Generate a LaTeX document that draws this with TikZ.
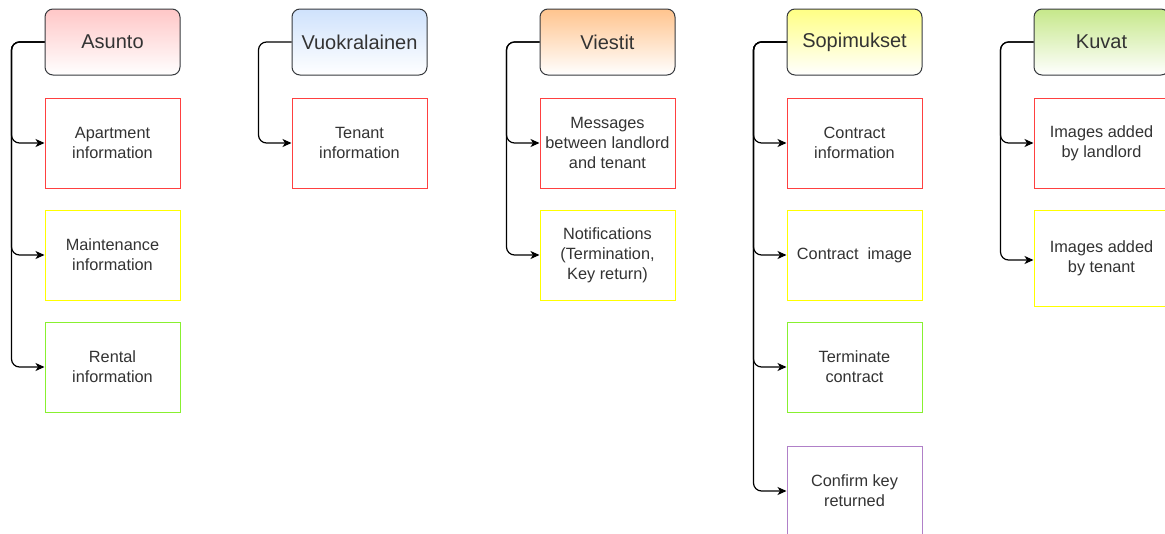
\documentclass[tikz,border=0pt]{standalone}
\usepackage{fontspec}
\setmainfont{Liberation Sans}
\usetikzlibrary{arrows.meta}

\definecolor{txt}{HTML}{333333}
\definecolor{hstroke}{HTML}{36393D}
\definecolor{redtop}{HTML}{FFC7C7}
\definecolor{bluetop}{HTML}{CFE2FC}
\definecolor{orangetop}{HTML}{FFC48E}
\definecolor{yellowtop}{HTML}{FFFF84}
\definecolor{greentop}{HTML}{C6E88A}
\definecolor{bred}{HTML}{FF4040}
\definecolor{byellow}{HTML}{FFFF00}
\definecolor{bgreen}{HTML}{88F030}
\definecolor{bpurple}{HTML}{B080C8}

\tikzset{
  header/.style={draw=hstroke, line width=1pt, rounded corners=8pt,
    minimum width=135pt, minimum height=66pt, bottom color=white,
    text=txt, font=\fontsize{20}{23}\selectfont, inner sep=0pt},
  item/.style={draw=#1, line width=1pt, fill=white,
    minimum width=135pt, minimum height=90pt, text=txt, align=center,
    font=\fontsize{16.3}{20}\selectfont, inner sep=0pt},
  link/.style={draw=black, line width=1.2pt, rounded corners=8pt,
    -{Stealth[length=9pt,width=8pt,inset=2.5pt]}}
}

\begin{document}
\begin{tikzpicture}[x=1pt,y=-1pt]
\useasboundingbox (0,0) rectangle (1165,533);
\clip (0,0) rectangle (1165,533);

% column headers
\node[header, top color=redtop]    (asunto) at (112.5,42) {Asunto};
\node[header, top color=bluetop]   (vuokra) at (359.5,42) {Vuokralainen};
\node[header, top color=orangetop] (viest)  at (607.5,42) {Viestit};
\node[header, top color=yellowtop] (sopim)  at (854.5,42) {Sopimukset};
\node[header, top color=greentop]  (kuvat)  at (1101.5,42) {Kuvat};

% Asunto
\node[item=bred]    (a1) at (112.5,143) {Apartment\\information};
\node[item=byellow] (a2) at (112.5,255) {Maintenance\\information};
\node[item=bgreen]  (a3) at (112.5,367) {Rental\\information};

% Vuokralainen
\node[item=bred] (v1) at (359.5,143) {Tenant\\information};

% Viestit
\node[item=bred]    (m1) at (607.5,143) {Messages\\between landlord\\and tenant};
\node[item=byellow] (m2) at (607.5,255) {Notifications\\(Termination,\\Key return)};

% Sopimukset
\node[item=bred]    (s1) at (854.5,143) {Contract\\information};
\node[item=byellow] (s2) at (854.5,255) {Contract\ \ image};
\node[item=bgreen]  (s3) at (854.5,367) {Terminate\\contract};
\node[item=bpurple] (s4) at (854.5,491) {Confirm key\\returned};

% Kuvat
\node[item=bred]                       (k1) at (1101.5,143) {Images added\\by landlord};
\node[item=byellow, minimum height=96pt] (k2) at (1101.5,258) {Images added\\by tenant};

% connectors: header west side -> trunk -> child west side
\foreach \h/\c in {asunto/a1, asunto/a2, asunto/a3, vuokra/v1, viest/m1, viest/m2,
                   sopim/s1, sopim/s2, sopim/s3, sopim/s4, kuvat/k1}
  \draw[link] (\h.west) -- ++(-33,0) |- (\c.west);
\draw[link] (kuvat.west) -- ++(-33,0) |- ([yshift=-2pt]k2.west);
\end{tikzpicture}
\end{document}
